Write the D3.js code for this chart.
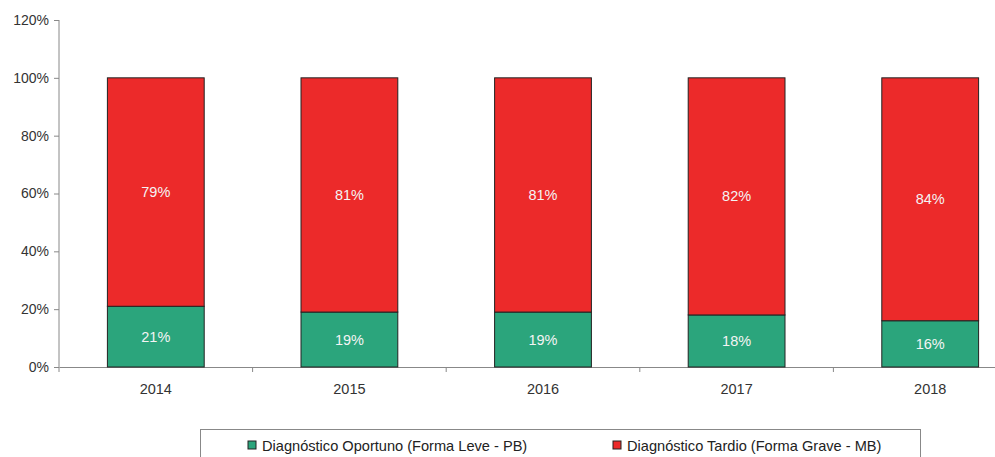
<!DOCTYPE html>
<html><head><meta charset="utf-8">
<script src="https://cdn.jsdelivr.net/npm/d3@7"></script>
<style>body{margin:0;background:#fff}svg{display:block;font-family:"Liberation Sans",Arial,sans-serif}</style>
</head><body><svg id="c" width="995" height="457"></svg>
<script>
const years = ["2014","2015","2016","2017","2018"];
const oportuno = [21,19,19,18,16];
const tardio = [79,81,81,82,84];
const seriesNames = ["Diagnóstico Oportuno (Forma Leve - PB)","Diagnóstico Tardio (Forma Grave - MB)"];
const yTicks = [0,20,40,60,80,100,120];
const colors = ["#2ba57c","#ec2a2a"];

const svg = d3.select("#c");
const x = d3.scaleBand().domain(years).range([59,1027]).paddingInner(0.5).paddingOuter(0.25);
const y = d3.scaleLinear().domain([0,120]).range([367,20]);

// y axis
const ya = svg.append("g").attr("transform","translate(59,0)")
  .call(d3.axisLeft(y).tickValues(yTicks).tickSize(5).tickFormat(d=>d+"%"));
ya.select(".domain").attr("stroke","#888").attr("d","M0,20V367");
ya.selectAll(".tick line").attr("stroke","#888");
ya.selectAll("text").attr("fill","#333").attr("font-size",14).attr("x",-10);

// x axis
const xa = svg.append("g").attr("transform","translate(0,367)")
  .call(d3.axisBottom(x).tickSize(0).tickPadding(17));
xa.select(".domain").attr("stroke","#888");
xa.selectAll("text").attr("fill","#333").attr("font-size",14.5);
const step = x.step();
const bounds = years.map((d,i)=>59+i*step).concat([59+years.length*step]);
svg.append("g").selectAll("line").data(bounds).join("line")
  .attr("x1",d=>d).attr("x2",d=>d).attr("y1",367).attr("y2",372).attr("stroke","#888");

const stack = years.map((yr,i)=>({yr, segs:[{v0:0,v1:oportuno[i],c:0},{v0:oportuno[i],v1:oportuno[i]+tardio[i],c:1}]}));
const g = svg.append("g").selectAll("g").data(stack).join("g");
g.selectAll("rect").data(d=>d.segs.map(s=>({...s,yr:d.yr}))).join("rect")
  .attr("x",d=>x(d.yr)).attr("width",x.bandwidth())
  .attr("y",d=>y(d.v1)).attr("height",d=>y(d.v0)-y(d.v1))
  .attr("fill",d=>colors[d.c]).attr("stroke","#222").attr("stroke-width",1);
g.selectAll("text").data(d=>d.segs.map(s=>({...s,yr:d.yr}))).join("text")
  .attr("x",d=>x(d.yr)+x.bandwidth()/2).attr("y",d=>(y(d.v0)+y(d.v1))/2+5)
  .attr("text-anchor","middle").attr("font-size",14.5).attr("fill","#f4f4f4")
  .text(d=>(d.v1-d.v0)+"%");

// legend
svg.append("rect").attr("x",200.5).attr("y",429.5).attr("width",720).attr("height",40)
  .attr("fill","#fff").attr("stroke","#888");
const lx = [248,613];
seriesNames.forEach((n,i)=>{
  svg.append("rect").attr("x",lx[i]).attr("y",441).attr("width",8).attr("height",8)
    .attr("fill",colors[i]).attr("stroke","#222");
  svg.append("text").attr("x",lx[i]+14).attr("y",451).attr("font-size",14.6).attr("fill","#222").text(n);
});
</script></body></html>
